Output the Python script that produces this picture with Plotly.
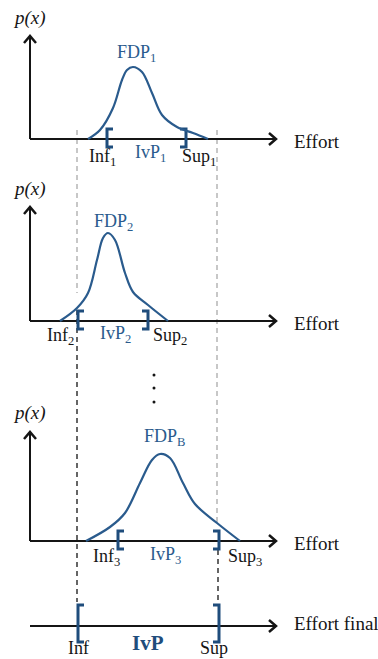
import plotly.graph_objects as go

# canvas units: one unit = one pixel of the 378x659 picture, y grows downward
W, H = 378, 659

# density curves: x positions and heights above each panel's baseline
fdp1_x = [88, 100, 113, 122, 127, 133, 142, 152, 162, 177, 193, 208]
fdp1_p = [0, 9, 31, 59, 69, 72, 67, 46, 24, 12, 6, 0]
fdp2_x = [60, 77, 88, 97, 103, 108, 115, 125, 133, 148, 168]
fdp2_p = [0, 13, 28, 61, 83, 88, 81, 48, 29, 16, 0]
fdpb_x = [86, 110, 125, 140, 152, 160, 170, 183, 195, 217, 240]
fdpb_p = [0, 14, 28, 58, 81, 87, 83, 58, 37, 18, 0]

# panel baselines (axis rows) and interval bounds
baselines = [139, 321, 541, 626]
ivp_inf = [107, 78, 118, 78]
ivp_sup = [186, 148, 219, 219]
inf_labels = ["Inf<sub>1</sub>", "Inf<sub>2</sub>", "Inf<sub>3</sub>", "Inf"]
sup_labels = ["Sup<sub>1</sub>", "Sup<sub>2</sub>", "Sup<sub>3</sub>", "Sup"]
ivp_labels = ["IvP<sub>1</sub>", "IvP<sub>2</sub>", "IvP<sub>3</sub>", "<b>IvP</b>"]
fdp_labels = ["FDP<sub>1</sub>", "FDP<sub>2</sub>", "FDP<sub>B</sub>"]
axis_labels = ["Effort", "Effort", "Effort", "Effort final"]

BLUE = "#2a5b8d"
DARK_BLUE = "#1f4d7c"
INK = "#151515"
FONT = "Liberation Serif, Times New Roman, serif"

fig = go.Figure()


def line(xs, ys, color=INK, width=2, dash="solid"):
    fig.add_trace(go.Scatter(x=xs, y=ys, mode="lines",
                             line=dict(color=color, width=width, dash=dash),
                             hoverinfo="skip", showlegend=False))


def text(x, y, s, size=18, color=INK, anchor="center"):
    fig.add_annotation(x=x, y=y, text=s, showarrow=False, xanchor=anchor,
                       yanchor="middle", font=dict(family=FONT, size=size, color=color))


# guide lines between panels
line([77, 77], [130, 293], color="#b5b5b5", width=1.5, dash="5px,4px")
line([217, 217], [130, 523], color="#b5b5b5", width=1.5, dash="5px,4px")
line([77, 77], [310, 602], color="#333333", width=1.5, dash="5px,4px")
line([218, 218], [550, 606], color="#333333", width=1.5, dash="5px,4px")

x0, x_tip = 30, 276
y_tips = [36, 207, 432]

for i, base in enumerate(baselines):
    # horizontal axis with open arrow head
    line([x0, x_tip], [base, base])
    line([x_tip - 7, x_tip, x_tip - 7], [base - 6, base, base + 6], width=2.5)
    if i < 3:
        line([x0, x0], [base, y_tips[i]])
        line([x0 - 6, x0, x0 + 6], [y_tips[i] + 7, y_tips[i], y_tips[i] + 7], width=2.5)

    # interval brackets
    top, bot = base - 10, base + 8
    if i == 3:
        top, bot = base - 21, base + 16
    a, b = ivp_inf[i], ivp_sup[i]
    line([a + 6, a, a, a + 6], [top, top, bot, bot], color=DARK_BLUE, width=3)
    line([b - 6, b, b, b - 6], [top, top, bot, bot], color=DARK_BLUE, width=3)

# density curves
for xs, ps, base in [(fdp1_x, fdp1_p, baselines[0]),
                     (fdp2_x, fdp2_p, baselines[1]),
                     (fdpb_x, fdpb_p, baselines[2])]:
    fig.add_trace(go.Scatter(x=xs, y=[base - p for p in ps], mode="lines",
                             line=dict(color=BLUE, width=2.2, shape="spline"),
                             hoverinfo="skip", showlegend=False))

# text
for y in [18, 189, 413]:
    text(29, y, "<i>p(x)</i>", size=19)
for i, base in enumerate(baselines):
    text(292, base + 2 if i < 3 else base - 3, axis_labels[i], size=19, anchor="left")

text(136, 53, fdp_labels[0], color=BLUE)
text(113, 222, fdp_labels[1], color=BLUE)
text(164, 437, fdp_labels[2], color=BLUE)

label_pos = [
    ((102, 157), (150, 153), (199, 157)),
    ((60, 336), (115, 334), (170, 336)),
    ((106, 557), (165, 555), (245, 557)),
    ((78, 648), (148, 643), (214, 648)),
]
for i, (pi, pv, ps) in enumerate(label_pos):
    text(*pi, inf_labels[i])
    text(*pv, ivp_labels[i], size=21 if i == 3 else 18, color=DARK_BLUE if i == 3 else BLUE)
    text(*ps, sup_labels[i])

# vertical dots
fig.add_trace(go.Scatter(x=[154, 154, 154], y=[375, 388, 402], mode="markers",
                         marker=dict(color=INK, size=3), hoverinfo="skip", showlegend=False))

fig.update_layout(
    width=W, height=H,
    margin=dict(l=0, r=0, t=0, b=0),
    paper_bgcolor="white", plot_bgcolor="white",
    xaxis=dict(range=[0, W], visible=False, fixedrange=True),
    yaxis=dict(range=[H, 0], visible=False, fixedrange=True),
)

fig.write_html("out.html", config=dict(displayModeBar=False),
               post_script="document.body.style.margin='0';")
